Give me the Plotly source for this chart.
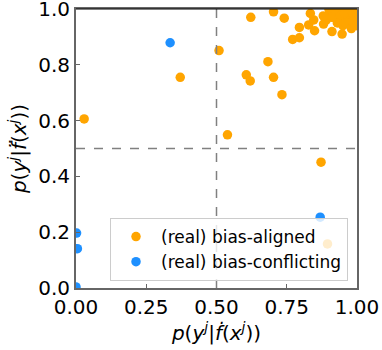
import plotly.graph_objects as go

# bias-aligned samples (orange)
aligned_x = [0.029, 0.371, 0.509, 0.539, 0.606, 0.620, 0.622, 0.683, 0.703, 0.703,
             0.733, 0.741, 0.771, 0.795, 0.795, 0.834, 0.828, 0.849, 0.846, 0.881,
             0.911, 0.947, 0.872, 0.895,
             0.89, 0.90, 0.91, 0.92, 0.93, 0.94, 0.95, 0.96, 0.97, 0.98, 0.99, 1.00,
             0.90, 0.92, 0.94, 0.96, 0.98, 1.00, 0.93, 0.95, 0.97, 0.99, 0.91, 0.96,
             0.98, 0.94, 0.99, 0.97, 0.88, 0.92, 0.955, 0.985, 1.00, 0.965]
aligned_y = [0.606, 0.755, 0.851, 0.549, 0.764, 0.742, 0.970, 0.811, 0.755, 0.990,
             0.693, 0.967, 0.891, 0.897, 0.934, 0.984, 0.943, 0.922, 0.961, 0.946,
             0.919, 0.910, 0.451, 0.158,
             0.96, 0.98, 0.99, 0.97, 0.95, 0.99, 0.96, 0.98, 0.97, 0.99, 0.95, 0.97,
             1.00, 0.99, 0.97, 1.00, 0.98, 0.99, 0.96, 0.94, 0.96, 0.97, 0.97, 0.95,
             0.93, 0.98, 1.00, 0.99, 0.975, 1.00, 0.985, 0.955, 0.94, 1.00]

# bias-conflicting samples (blue)
conflict_x = [0.335, 0.869, 0.002, 0.005, 0.0]
conflict_y = [0.879, 0.254, 0.197, 0.141, 0.004]

font = "DejaVu Sans"
ax_title = "<i>p</i>(<i>y</i><sup><i>j</i></sup>|<i>{}</i>(<i>x</i><sup><i>j</i></sup>))"

fig = go.Figure()
fig.add_trace(go.Scatter(x=aligned_x, y=aligned_y, mode="markers", name="(real) bias-aligned",
                         marker=dict(color="orange", size=9.5)))
fig.add_trace(go.Scatter(x=conflict_x, y=conflict_y, mode="markers", name="(real) bias-conflicting",
                         marker=dict(color="dodgerblue", size=9.5)))

fig.add_shape(type="line", x0=0.5, x1=0.5, y0=0, y1=1, xref="x", yref="y",
              line=dict(color="gray", width=1.5, dash="dash"))
fig.add_shape(type="line", x0=0, x1=1, y0=0.5, y1=0.5, xref="x", yref="y",
              line=dict(color="gray", width=1.5, dash="dash"))
fig.add_shape(type="line", x0=0, x1=1, y0=1, y1=1, xref="paper", yref="paper",
              line=dict(color="black", width=1))

axis = dict(range=[0, 1], showgrid=False, zeroline=False, showline=True, mirror=True,
            linecolor="#666", linewidth=2, ticks="inside", ticklen=4, tickcolor="#666",
            automargin=False, ticklabeloverflow="allow",
            tickfont=dict(size=20, color="black", family=font))
fig.update_xaxes(**axis, tickvals=[0, 0.25, 0.5, 0.75, 1.0], ticktext=["0.00", "0.25", "0.50", "0.75", "1.00"],
                 title=dict(text=ax_title.format("ḟ"), font=dict(size=20, color="black", family=font), standoff=0))
fig.update_yaxes(**axis, tickvals=[0, 0.2, 0.4, 0.6, 0.8, 1.0], ticktext=["0.0", "0.2", "0.4", "0.6", "0.8", "1.0"],
                 title=dict(text=ax_title.format("f̈"), font=dict(size=20, color="black", family=font), standoff=6))

fig.update_layout(
    width=382, height=350,
    margin=dict(l=76, r=25, t=9, b=62),
    plot_bgcolor="white", paper_bgcolor="white",
    font=dict(family=font, color="black"),
    legend=dict(x=0.968, xanchor="right", y=0.025, yanchor="bottom",
                bgcolor="rgba(255,255,255,0.8)", bordercolor="#ccc", borderwidth=1,
                itemwidth=40, tracegroupgap=0, font=dict(size=17, family=font)),
)

fig.write_html("out.html", config={"displayModeBar": False},
               post_script="document.body.style.margin='0';")
